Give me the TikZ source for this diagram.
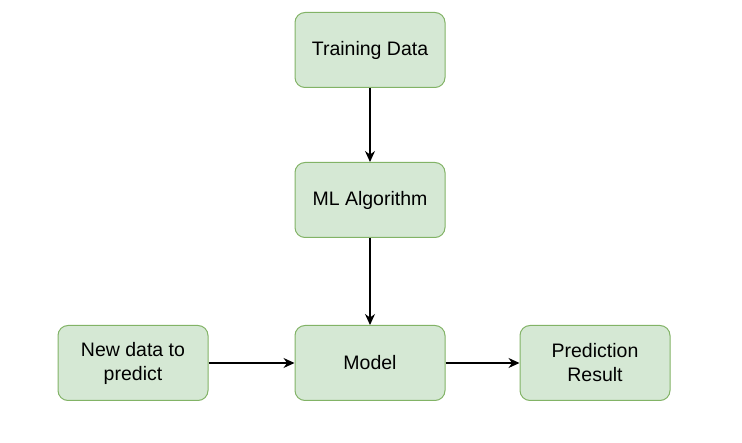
\documentclass[tikz,border=0pt]{standalone}
\usepackage{fontspec}
\setmainfont{Liberation Sans}
\usepackage{tikz}
\usetikzlibrary{positioning}
\usetikzlibrary{arrows.meta}
\definecolor{boxfill}{HTML}{D5E8D4}
\definecolor{boxline}{HTML}{82B366}

\begin{document}
\begin{tikzpicture}[x=1pt, y=-1pt, every node/.style={draw=boxline, fill=boxfill, rounded corners=10pt, line width=1pt, minimum width=150pt, minimum height=75pt, align=center, font=\fontsize{19.5}{24}\selectfont}]
            \useasboundingbox (0,0) rectangle (742,443);
            % Nodos
            \node (train) at (370,50) {Training Data};
            \node (algo) at (370,200) {ML Algorithm};
            \node (model) at (370,363) {Model};
            \node (new) at (133,363) {New data to\\predict};
            \node (pred) at (595,363) {Prediction\\Result};

            % Aristas
            \draw[-{Stealth[length=11pt, width=10pt]}, line width=1.2pt] (train) -- (algo);
            \draw[-{Stealth[length=11pt, width=10pt]}, line width=1.2pt] (algo) -- (model);
            \draw[-{Stealth[length=11pt, width=10pt]}, line width=1.2pt] (new) -- (model);
            \draw[-{Stealth[length=11pt, width=10pt]}, line width=1.2pt] (model) -- (pred);
          \end{tikzpicture}
\end{document}
